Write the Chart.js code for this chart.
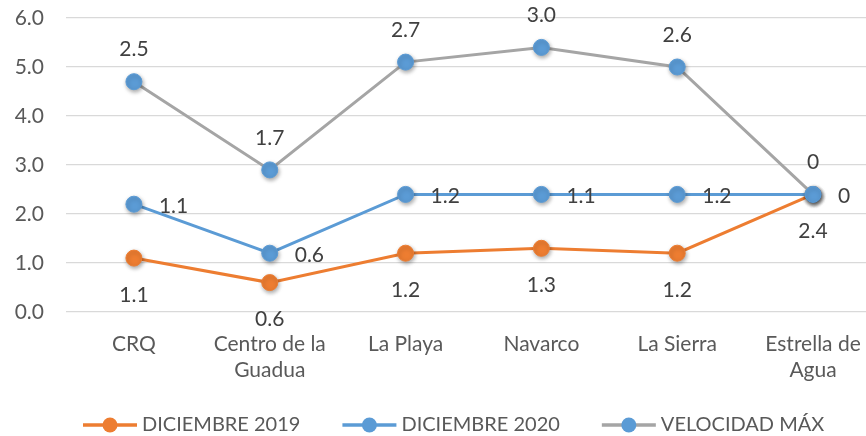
<!DOCTYPE html>
<html>
<head>
<meta charset="utf-8">
<script src="https://cdn.jsdelivr.net/npm/chart.js@4/dist/chart.umd.min.js"></script>
<style>
  html, body { margin: 0; padding: 0; background: #ffffff; }
  #wrap { width: 866px; height: 436px; }
</style>
</head>
<body>
<div id="wrap"><canvas id="c" width="866" height="436"></canvas></div>
<script>
// Stations along the x axis (arrays are multi-line labels)
const categories = ['CRQ', ['Centro de la', 'Guadua'], 'La Playa', 'Navarco', 'La Sierra', ['Estrella de', 'Agua']];
const seriesNames = ['DICIEMBRE 2019', 'DICIEMBRE 2020', 'VELOCIDAD MÁX'];
// Values per series (stacked on the y axis)
const dic2019 = [1.1, 0.6, 1.2, 1.3, 1.2, 2.4];
const dic2020 = [1.1, 0.6, 1.2, 1.1, 1.2, 0];
const velMax  = [2.5, 1.7, 2.7, 3.0, 2.6, 0];
const yTicks  = [0, 1, 2, 3, 4, 5, 6];

const FONT = 'Lato, "Open Sans", sans-serif';
const ORANGE = '#ED7D31', BLUE = '#5B9BD5', GRAY = '#A5A5A5';

const toPoints = arr => arr.map((v, i) => ({ x: i, y: v }));
const fmt = v => (v === 0 ? '0' : v.toFixed(1));

const series = [
  { name: seriesNames[0], values: dic2019, line: ORANGE, marker: ORANGE, place: 'below' },
  { name: seriesNames[1], values: dic2020, line: BLUE,   marker: BLUE,   place: 'right' },
  { name: seriesNames[2], values: velMax,  line: GRAY,   marker: BLUE,   place: 'above' }
];

// Draw series in index order (first series underneath), markers with a soft shadow,
// then the value labels.
const seriesPainter = {
  id: 'seriesPainter',
  beforeDatasetDraw() { return false; },
  afterDatasetsDraw(chart) {
    const ctx = chart.ctx;
    const area = chart.chartArea;
    chart.data.datasets.forEach((ds, i) => {
      const meta = chart.getDatasetMeta(i);
      meta.dataset.draw(ctx, area);
      ctx.save();
      ctx.shadowColor = 'rgba(0,0,0,0.35)';
      ctx.shadowBlur = 4;
      ctx.shadowOffsetX = 1;
      ctx.shadowOffsetY = 2;
      meta.data.forEach(p => p.draw(ctx, area));
      ctx.restore();
    });
    ctx.save();
    ctx.font = '21px ' + FONT;
    ctx.fillStyle = '#404040';
    ctx.textBaseline = 'middle';
    chart.data.datasets.forEach((ds, i) => {
      const meta = chart.getDatasetMeta(i);
      const place = series[i].place;
      meta.data.forEach((p, j) => {
        const txt = fmt(series[i].values[j]);
        if (place === 'below') { ctx.textAlign = 'center'; ctx.fillText(txt, p.x, p.y + 37); }
        else if (place === 'above') { ctx.textAlign = 'center'; ctx.fillText(txt, p.x, p.y - 32); }
        else { ctx.textAlign = 'left'; ctx.fillText(txt, p.x + 25, p.y + 2); }
      });
    });
    ctx.restore();
  }
};

// Legend row: line with a round marker followed by the series name
const legendRow = {
  id: 'legendRow',
  afterDraw(chart) {
    const ctx = chart.ctx;
    ctx.save();
    ctx.font = '20px ' + FONT;
    ctx.textBaseline = 'middle';
    ctx.textAlign = 'left';
    const y = 425;
    let x = 83;
    series.forEach(s => {
      ctx.strokeStyle = s.line;
      ctx.lineWidth = 3.5;
      ctx.beginPath();
      ctx.moveTo(x, y);
      ctx.lineTo(x + 54, y);
      ctx.stroke();
      ctx.fillStyle = s.marker;
      ctx.beginPath();
      ctx.arc(x + 27, y, 7.5, 0, Math.PI * 2);
      ctx.fill();
      ctx.fillStyle = '#595959';
      ctx.fillText(s.name, x + 59, y);
      x += 59 + ctx.measureText(s.name).width + 42;
    });
    ctx.restore();
  }
};

new Chart(document.getElementById('c'), {
  type: 'line',
  data: {
    datasets: series.map(s => ({
      label: s.name,
      data: toPoints(s.values),
      borderColor: s.line,
      borderWidth: 3,
      backgroundColor: s.marker,
      pointBackgroundColor: s.marker,
      pointBorderColor: s.marker,
      pointBorderWidth: 1,
      pointRadius: 8,
      fill: false,
      tension: 0
    }))
  },
  options: {
    responsive: false,
    animation: false,
    devicePixelRatio: 1,
    layout: { autoPadding: false, padding: { top: 18, right: 0, bottom: 44, left: 0 } },
    plugins: { legend: { display: false }, tooltip: { enabled: false } },
    scales: {
      x: {
        type: 'linear',
        min: -0.5,
        max: 5.39,
        afterBuildTicks(scale) { scale.ticks = categories.map((c, i) => ({ value: i })); },
        afterFit(scale) { scale.height = 80; scale.paddingLeft = 0; scale.paddingRight = 0; },
        grid: { display: false, drawTicks: false },
        border: { display: false },
        ticks: {
          padding: 19,
          maxRotation: 0,
          autoSkip: false,
          color: '#595959',
          font: { family: FONT, size: 21, lineHeight: 1.24 },
          callback: v => categories[v]
        }
      },
      y: {
        stacked: true,
        min: 0,
        max: 6,
        afterBuildTicks(scale) { scale.ticks = yTicks.map(v => ({ value: v })); },
        afterFit(scale) { scale.width = 66; scale.paddingTop = 0; scale.paddingBottom = 0; },
        grid: { color: '#D9D9D9', lineWidth: 1.2, drawTicks: false },
        border: { display: false },
        ticks: {
          padding: 22,
          color: '#595959',
          font: { family: FONT, size: 21 },
          callback: v => v.toFixed(1)
        }
      }
    }
  },
  plugins: [seriesPainter, legendRow]
});
</script>
</body>
</html>
